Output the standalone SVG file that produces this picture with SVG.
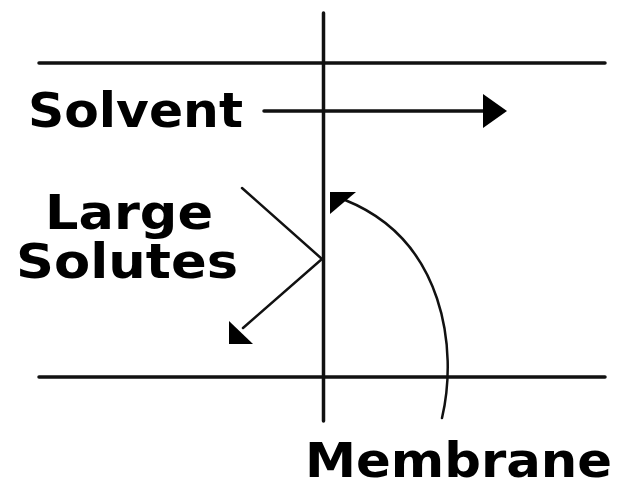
<svg xmlns="http://www.w3.org/2000/svg" width="619" height="485" viewBox="0 0 619 485">
<style>
.lbl{font-family:"DejaVu Sans","Liberation Sans",sans-serif;font-weight:bold;font-size:48px;fill:#000}
.thick{stroke:#111;stroke-width:3.5;fill:none;stroke-linecap:round}
.thin{stroke:#111;stroke-width:2.5;fill:none;stroke-linecap:round}
.head{fill:#000}
</style>
<rect width="619" height="485" fill="#fff"/>
<g id="boundaries">
<line class="thick" x1="39" y1="63" x2="605" y2="63"/>
<line class="thick" x1="39" y1="377" x2="605" y2="377"/>
</g>
<g id="membrane">
<line class="thick" x1="323.5" y1="13" x2="323.5" y2="421"/>
<text class="lbl" x="305" y="477" textLength="307" lengthAdjust="spacingAndGlyphs">Membrane</text>
</g>
<g id="solvent">
<text class="lbl" x="28" y="127" textLength="215" lengthAdjust="spacingAndGlyphs">Solvent</text>
</g>
<g id="large-solutes">
<text class="lbl" x="45" y="229" textLength="168" lengthAdjust="spacingAndGlyphs">Large</text>
<text class="lbl" x="16" y="278" textLength="222" lengthAdjust="spacingAndGlyphs">Solutes</text>
</g>
<g id="connectors">
<line class="thick" x1="264" y1="111" x2="490" y2="111"/>
<polygon class="head" points="483,94 507,111 483,128"/>
<polyline class="thin" points="242,188 322,259 243,328"/>
<polygon class="head" points="229,321 229,344 253,344"/>
<path class="thin" d="M 442 418 C 458 350, 445 240, 345 200"/>
<polygon class="head" points="330,192 356,192 330,214"/>
</g>
</svg>
